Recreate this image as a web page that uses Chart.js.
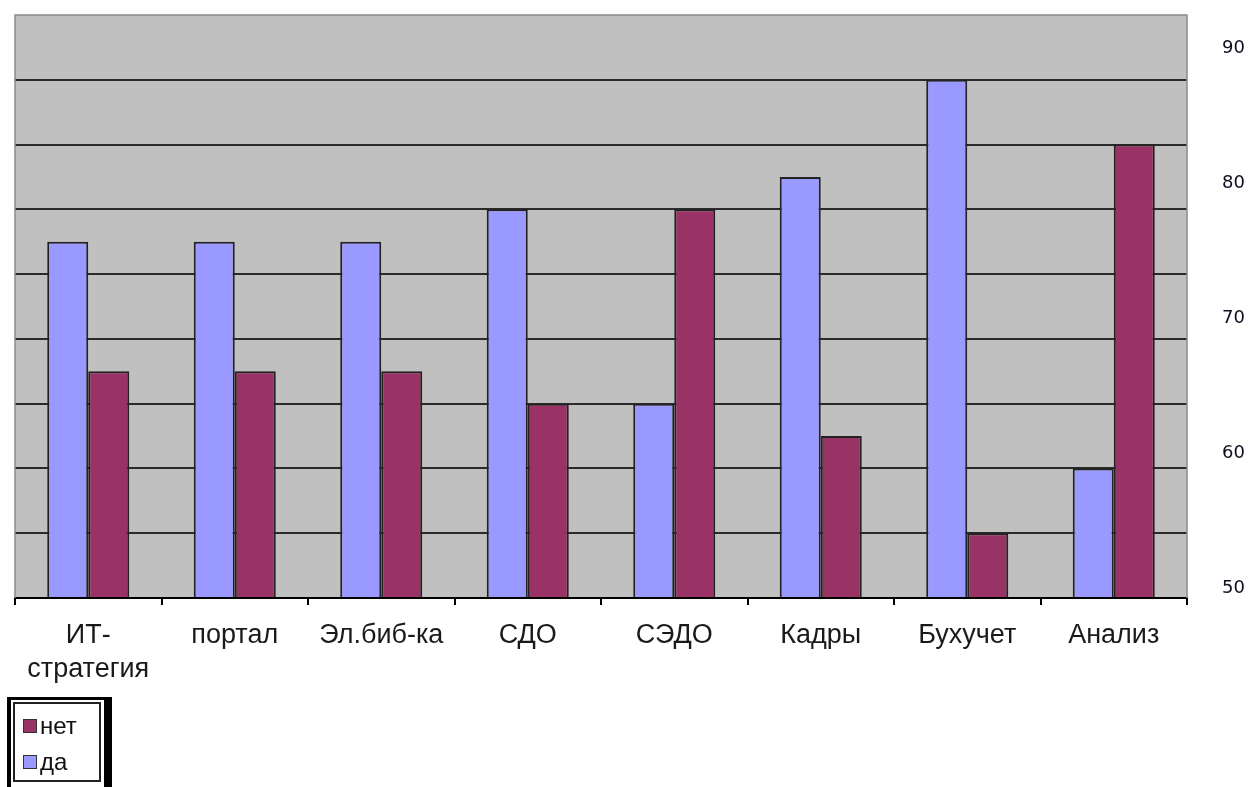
<!DOCTYPE html>
<html>
<head>
<meta charset="utf-8">
<script src="https://cdn.jsdelivr.net/npm/chart.js@4"></script>
<style>
  html, body { margin: 0; padding: 0; background: #fff; }
  #wrap { position: relative; width: 1251px; height: 787px; overflow: hidden; }
  #legend {
    position: absolute; left: 7px; top: 697px; width: 88px; height: 110px;
    border-left: 4px solid #000; border-top: 3px solid #000; border-right: 8px solid #000;
    padding: 2px 3px 0 2px;
  }
  #legend .inner {
    border: 2px solid #222; height: 72px; padding: 4px 0 0 8px;
    font-family: "Liberation Sans", Arial, sans-serif; font-size: 24px; color: #111;
  }
  #legend .item { display: flex; align-items: center; height: 36px; }
  #legend .sw { width: 12px; height: 12px; border: 1.5px solid #333; margin-right: 3px; }
</style>
</head>
<body>
<div id="wrap">
  <canvas id="c" width="1251" height="787"></canvas>
  <div id="legend"><div class="inner"></div></div>
</div>
<script>
const categories = [['ИТ-', 'стратегия'], 'портал', 'Эл.биб-ка', 'СДО', 'СЭДО', 'Кадры', 'Бухучет', 'Анализ'];
const daValues = [5.5, 5.5, 5.5, 6, 3, 6.5, 8, 2];
const netValues = [3.5, 3.5, 3.5, 3, 6, 2.5, 1, 7];
const rightTicks = [50, 60, 70, 80, 90];

const plotBg = {
  id: 'plotBg',
  beforeDraw(chart) {
    const a = chart.chartArea, ctx = chart.ctx;
    ctx.save();
    ctx.fillStyle = '#c0c0c0';
    ctx.fillRect(a.left, a.top, a.right - a.left, a.bottom - a.top);
    ctx.restore();
  },
  afterDatasetsDraw(chart) {
    const a = chart.chartArea, ctx = chart.ctx;
    ctx.save();
    ctx.strokeStyle = '#8a8a8a';
    ctx.lineWidth = 1.5;
    ctx.beginPath();
    ctx.moveTo(a.left, a.bottom);
    ctx.lineTo(a.left, a.top);
    ctx.lineTo(a.right, a.top);
    ctx.lineTo(a.right, a.bottom);
    ctx.stroke();
    ctx.restore();
  }
};

const chart = new Chart(document.getElementById('c'), {
  type: 'bar',
  data: {
    labels: categories,
    datasets: [{
      label: 'да',
      data: daValues,
      backgroundColor: '#9999ff',
      borderColor: '#222',
      borderWidth: 2
    }, {
      label: 'нет',
      data: netValues,
      backgroundColor: '#993366',
      borderColor: '#222',
      borderWidth: 2
    }]
  },
  options: {
    responsive: false,
    animation: false,
    layout: { padding: { left: 15, top: 15, right: 0, bottom: 0 } },
    plugins: { legend: { display: false }, tooltip: { enabled: false } },
    datasets: { bar: { categoryPercentage: 0.56, barPercentage: 1.0 } },
    scales: {
      x: {
        grid: { drawOnChartArea: false, drawTicks: true, tickLength: 7, color: '#000', lineWidth: 2, offset: true },
        border: { display: true, color: '#000', width: 2 },
        ticks: {
          color: '#1a1a1a',
          padding: 14,
          maxRotation: 0,
          font: { family: '"Liberation Sans", Arial, sans-serif', size: 27, lineHeight: 1.26 }
        },
        afterFit(scale) { scale.height = 189; scale.paddingLeft = 0; scale.paddingRight = 0; }
      },
      y: {
        position: 'left',
        min: 0,
        max: 9,
        ticks: { display: false, stepSize: 1 },
        grid: {
          drawTicks: false,
          lineWidth: 2,
          color: (ctx) => ctx.tick && ctx.tick.value === 9 ? 'rgba(0,0,0,0)' : '#2a2a2a'
        },
        border: { display: false },
        afterFit(scale) { scale.width = 0; scale.paddingTop = 0; scale.paddingBottom = 0; }
      },
      y2: {
        position: 'right',
        min: 49.26,
        max: 92.44,
        grid: { drawOnChartArea: false, drawTicks: false },
        border: { display: false },
        ticks: {
          color: '#0d0d1f',
          padding: 35,
          font: { family: '"DejaVu Sans", Verdana, sans-serif', size: 18 }
        },
        afterBuildTicks(scale) { scale.ticks = rightTicks.map(v => ({ value: v })); },
        afterFit(scale) { scale.width = 64; scale.paddingTop = 0; scale.paddingBottom = 0; }
      }
    }
  },
  plugins: [plotBg]
});

// legend built from the chart's datasets, listed in reverse order like the original
const inner = document.querySelector('#legend .inner');
chart.data.datasets.slice().reverse().forEach(ds => {
  const item = document.createElement('div');
  item.className = 'item';
  const sw = document.createElement('span');
  sw.className = 'sw';
  sw.style.background = ds.backgroundColor;
  const t = document.createElement('span');
  t.textContent = ds.label;
  item.appendChild(sw);
  item.appendChild(t);
  inner.appendChild(item);
});
</script>
</body>
</html>
